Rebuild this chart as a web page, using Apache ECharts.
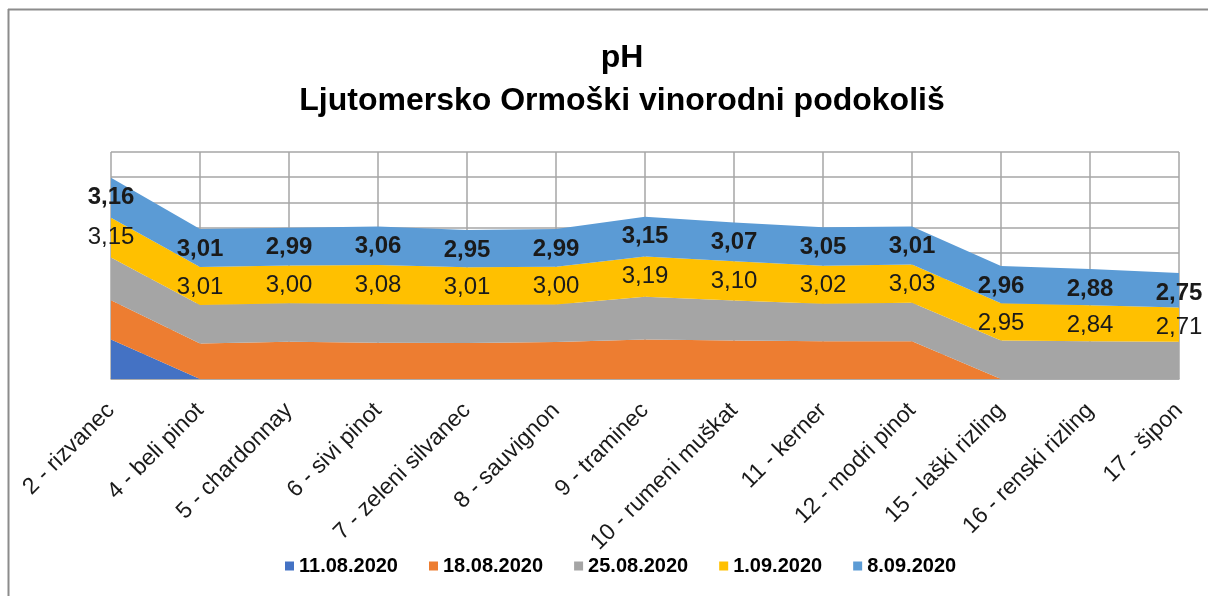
<!DOCTYPE html>
<html>
<head>
<meta charset="utf-8">
<script src="https://cdn.jsdelivr.net/npm/echarts@6/dist/echarts.min.js"></script>
<style>html,body{margin:0;padding:0;background:#fff}#c{width:1208px;height:596px}</style>
</head>
<body>
<div id="c"></div>
<script>
var categories = ['2 - rizvanec','4 - beli pinot','5 - chardonnay','6 - sivi pinot','7 - zeleni silvanec','8 - sauvignon','9 - traminec','10 - rumeni muškat','11 - kerner','12 - modri pinot','15 - laški rizling','16 - renski rizling','17 - šipon'];
var seriesNames = ['11.08.2020','18.08.2020','25.08.2020','1.09.2020','8.09.2020'];
var s1108 = [3.13,0,0,0,0,0,0,0,0,0,0,0,0];
var s1808 = [3.11,2.82,2.95,2.87,2.86,2.94,3.13,3.05,3.00,3.00,0,0,0];
var s2508 = [3.40,3.05,3.05,3.08,3.00,2.97,3.39,3.18,2.97,3.05,3.05,3.00,2.95];
var s0109 = [3.15,3.01,3.00,3.08,3.01,3.00,3.19,3.10,3.02,3.03,2.95,2.84,2.71];
var s0809 = [3.16,3.01,2.99,3.06,2.95,2.99,3.15,3.07,3.05,3.01,2.96,2.88,2.75];
var colors = ['#4472C4','#ED7D31','#A5A5A5','#FFC000','#5B9BD5'];

var FONT = 'Liberation Sans';
var data = [s1108, s1808, s2508, s0109, s0809];
function fmt(p){ return p.value.toFixed(2).replace('.', ','); }
var series = data.map(function(d, i){
  var labeled = i >= 3;
  return {
    name: seriesNames[i],
    type: 'line',
    stack: 'total',
    data: d,
    symbol: 'circle',
    symbolSize: 0,
    showSymbol: labeled,
    lineStyle: {width: 0},
    itemStyle: {color: colors[i]},
    areaStyle: {color: colors[i], opacity: 1},
    label: labeled ? {
      show: true,
      position: 'inside',
      offset: [0, 20],
      formatter: fmt,
      fontFamily: FONT,
      fontSize: 24,
      fontWeight: i === 4 ? 'bold' : 'normal',
      color: '#1a1a1a'
    } : {show: false},
    emphasis: {disabled: true},
    animation: false
  };
});

var chart = echarts.init(document.getElementById('c'), null, {renderer: 'canvas'});
chart.setOption({
  animation: false,
  backgroundColor: '#fff',
  title: {
    text: 'pH\nLjutomersko Ormoški vinorodni podokoliš',
    left: 617,
    top: 32,
    textAlign: 'center',
    textStyle: {fontFamily: FONT, fontSize: 32, fontWeight: 'bold', color: '#000', lineHeight: 43, align: 'center'}
  },
  legend: {
    bottom: 15,
    left: 280,
    itemWidth: 9,
    itemHeight: 9,
    itemGap: 31,
    icon: 'rect',
    textStyle: {fontFamily: FONT, fontSize: 20, fontWeight: 'bold', color: '#000'},
    data: seriesNames
  },
  grid: {left: 111, right: 29, top: 152, bottom: 217, containLabel: false},
  xAxis: {
    type: 'category',
    data: categories,
    boundaryGap: false,
    axisLine: {show: true, lineStyle: {color: '#a6a6a6', width: 1.5}},
    axisTick: {show: false},
    axisLabel: {rotate: 45, margin: 28, fontFamily: FONT, fontSize: 23, color: '#1a1a1a', interval: 0},
    splitLine: {show: true, lineStyle: {color: '#a6a6a6', width: 1.5}}
  },
  yAxis: {
    type: 'value',
    min: 0,
    max: 18,
    interval: 2,
    axisLine: {show: false},
    axisTick: {show: false},
    axisLabel: {show: false},
    splitLine: {show: true, lineStyle: {color: '#a6a6a6', width: 1.5}}
  },
  graphic: [
    {type: 'line', shape: {x1: 8, y1: 9.5, x2: 1208, y2: 9.5}, style: {stroke: '#8c8c8c', lineWidth: 2}},
    {type: 'line', shape: {x1: 8.5, y1: 9, x2: 8.5, y2: 596}, style: {stroke: '#8c8c8c', lineWidth: 2}}
  ],
  series: series
});
</script>
</body>
</html>
